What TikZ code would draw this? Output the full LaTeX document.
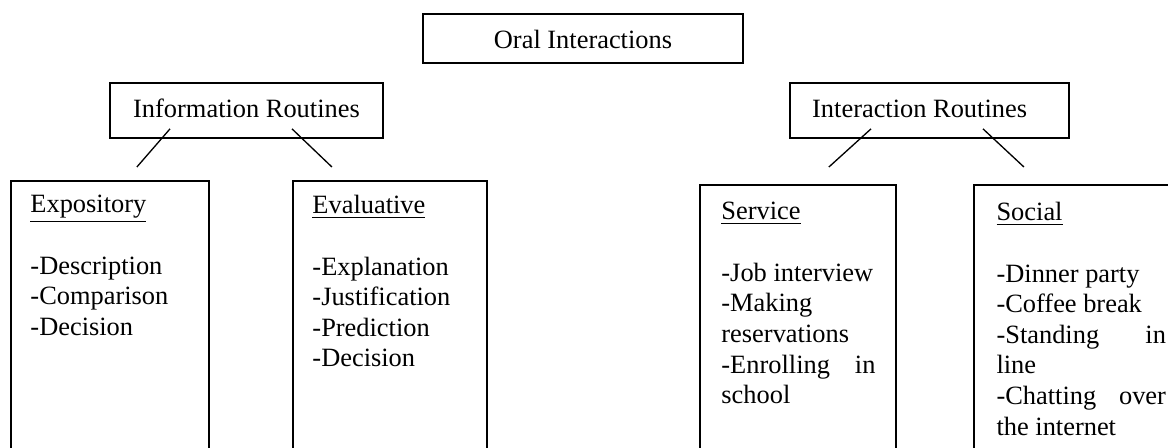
\documentclass[tikz,border=0pt]{standalone}
\usepackage{fontspec}
\setmainfont{Liberation Serif}
\usetikzlibrary{positioning}
\hyphenpenalty=10000
\exhyphenpenalty=10000
\tolerance=9999

\begin{document}
\begin{tikzpicture}[x=0.4545pt, y=-0.4545pt,
		font=\fontsize{12pt}{13.9pt}\selectfont,
		routine/.style = {draw, line width=0.8pt, inner xsep=2pt, inner ysep=0pt, text height=15.9pt, text depth=9.1pt},
		category/.style = {draw, line width=0.8pt, anchor=north west, minimum height=150pt},
		items/.style = {inner sep=0pt, align=justify},
		branch/.style = {line width=0.6pt}]
		\useasboundingbox (0,0) rectangle (1168,448);
		\clip (0,0) rectangle (1168,448);
		
		\node[routine, text depth=6.4pt, minimum width=145.5pt] (oral) at (583,38.5) {Oral Interactions};
		\node[routine, minimum width=124.1pt] (info) at (246.5,110.5) {Information Routines};
		\node[routine, minimum width=126.8pt] (inter) at (929.5,110.5) {Interaction Routines\hspace*{9pt}};
		
		\node[category, minimum width=90pt] (expo) at (10,180) {};
		\node[category, minimum width=88.2pt] (eval) at (292,180) {};
		\node[category, minimum width=89.1pt] (serv) at (699,184) {};
		\node[category, minimum width=98.2pt] (social) at (973,184) {};
		
		\node[items, text width=71.8pt, below right=6.8pt and 9.1pt of expo.north west] (expolist)
			{\underline{Expository}\\[14pt]-Description\\-Comparison\\-Decision};
		\node[items, text width=70pt, below right=6.8pt and 9.1pt of eval.north west] (evallist)
			{\underline{Evaluative}\\[14pt]-Explanation\\-Justification\\-Prediction\\-Decision};
		\node[items, text width=70pt, below right=8.2pt and 10pt of serv.north west] (servlist)
			{\underline{Service}\\[14pt]-Job interview\\-Making reservations\\-Enrolling in school};
		\node[items, text width=77pt, below right=8.2pt and 10.5pt of social.north west] (sociallist)
			{\underline{Social}\\[14pt]-Dinner party\\-Coffee break\\-Standing in line\\-Chatting over the internet};
		
		\draw[branch] ([shift={(-76.5,-10)}]info.south) -- ([shift={(27,-13)}]expo.north);
		\draw[branch] ([shift={(45.5,-10)}]info.south) -- ([shift={(-58,-13)}]eval.north);
		\draw[branch] ([shift={(-58.5,-10)}]inter.south) -- ([shift={(31,-17)}]serv.north);
		\draw[branch] ([shift={(53.5,-10)}]inter.south) -- ([shift={(-58,-17)}]social.north);
	\end{tikzpicture}
\end{document}
